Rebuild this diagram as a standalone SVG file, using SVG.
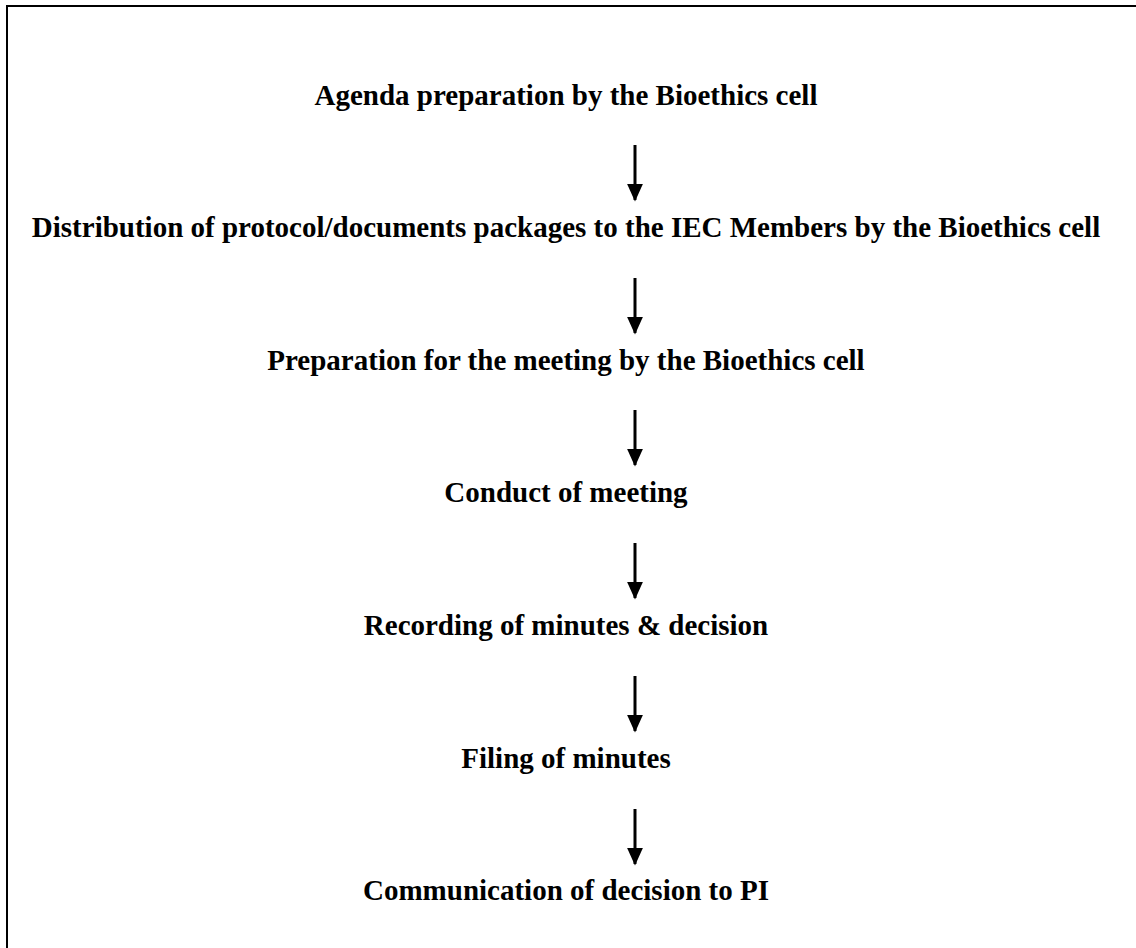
<svg xmlns="http://www.w3.org/2000/svg" width="1136" height="948" viewBox="0 0 1136 948">
<defs>
<marker id="ah" markerWidth="6" markerHeight="6" refX="5.5" refY="3" orient="auto" markerUnits="strokeWidth">
<path d="M0,0.3 L6,3 L0,5.7 Z" fill="#000"/>
</marker>
<style>
.t{font-family:"Liberation Serif","Times New Roman",serif;font-weight:bold;font-size:29px;fill:#000;text-anchor:middle}
.c{stroke:#000;stroke-width:3;fill:none}
</style>
</defs>
<rect x="0" y="0" width="1136" height="948" fill="#fff"/>
<rect x="7" y="6" width="1200" height="1000" fill="none" stroke="#000" stroke-width="2"/>
<g id="n1"><text class="t" x="566" y="105">Agenda preparation by the Bioethics cell</text></g>
<g id="n2"><text class="t" x="566" y="237">Distribution of protocol/documents packages to the IEC Members by the Bioethics cell</text></g>
<g id="n3"><text class="t" x="566" y="370">Preparation for the meeting by the Bioethics cell</text></g>
<g id="n4"><text class="t" x="566" y="502">Conduct of meeting</text></g>
<g id="n5"><text class="t" x="566" y="635">Recording of minutes &amp; decision</text></g>
<g id="n6"><text class="t" x="566" y="768">Filing of minutes</text></g>
<g id="n7"><text class="t" x="566" y="900">Communication of decision to PI</text></g>
<g id="connectors">
<line class="c" x1="635" y1="145" x2="635" y2="200" marker-end="url(#ah)"/>
<line class="c" x1="635" y1="278" x2="635" y2="333" marker-end="url(#ah)"/>
<line class="c" x1="635" y1="410" x2="635" y2="465" marker-end="url(#ah)"/>
<line class="c" x1="635" y1="543" x2="635" y2="598" marker-end="url(#ah)"/>
<line class="c" x1="635" y1="676" x2="635" y2="731" marker-end="url(#ah)"/>
<line class="c" x1="635" y1="809" x2="635" y2="864" marker-end="url(#ah)"/>
</g>
</svg>
